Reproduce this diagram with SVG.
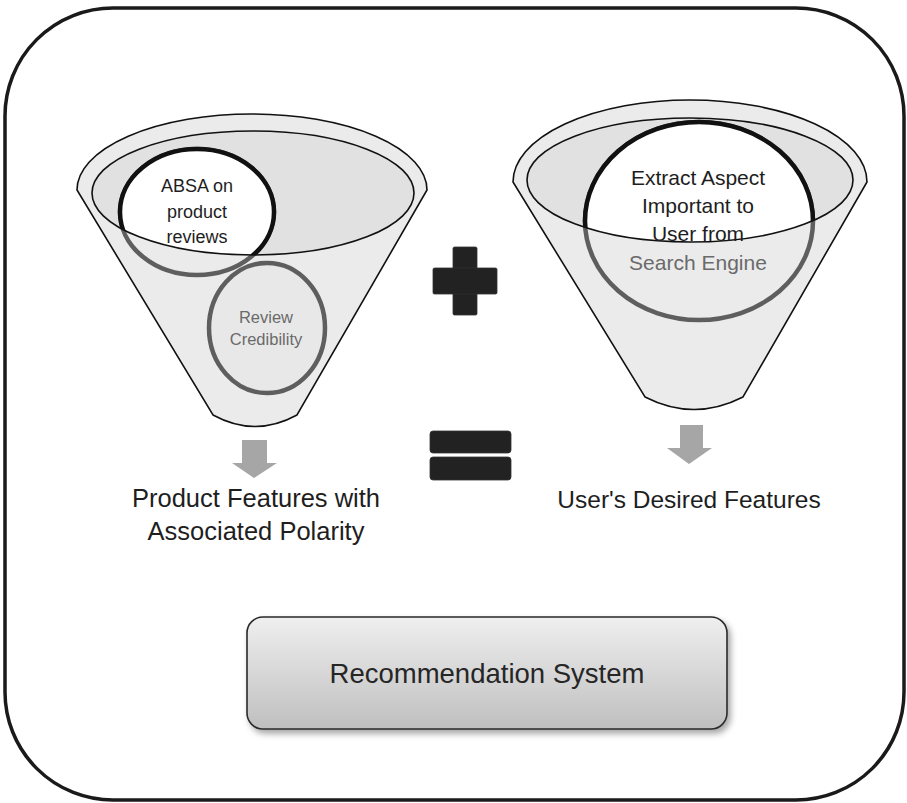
<svg xmlns="http://www.w3.org/2000/svg" width="907" height="803" viewBox="0 0 907 803">
<defs>
<style>
text{font-family:"Liberation Sans",Arial,sans-serif;text-anchor:middle}
.funnel{fill:#ebebeb;stroke:#111;stroke-width:1.6}
.mouth{fill:#e1e1e1;stroke:none}
.mouthline{fill:none;stroke:#111;stroke-width:1.6}
.ring-out{fill:none;stroke:#5e5e5e;stroke-width:4.5}
.ring-in{fill:#fff;stroke:#111;stroke-width:4.5}
.dark{fill:#1e1e1e}
.grey{fill:#6a6a6a}
.sym{fill:#222;stroke:#333;stroke-width:0.8}
.arrow{fill:#a6a6a6}
</style>
<clipPath id="clipL"><ellipse cx="253" cy="193" rx="161" ry="62"/></clipPath>
<clipPath id="clipR"><ellipse cx="690" cy="180" rx="163" ry="62"/></clipPath>
<linearGradient id="boxg" x1="0" y1="0" x2="0" y2="1">
<stop offset="0" stop-color="#efefef"/>
<stop offset="1" stop-color="#bfbfbf"/>
</linearGradient>
<filter id="shadow" x="-10%" y="-20%" width="120%" height="150%">
<feDropShadow dx="3" dy="4" stdDeviation="3" flood-color="#000" flood-opacity="0.35"/>
</filter>
</defs>
<rect x="0" y="0" width="907" height="803" fill="#fff"/>
<rect id="frame" x="5" y="8" width="899" height="792" rx="108" ry="108" fill="none" stroke="#1a1a1a" stroke-width="3.5"/>

<g id="funnel-left">
<path class="funnel" d="M 77,190 A 175,76 0 0 1 427,190 L 297,415 Q 255,438 213,415 Z"/>
<ellipse class="mouth" cx="253" cy="193" rx="161" ry="62"/>
<ellipse class="ring-out" cx="197" cy="212" rx="77" ry="63"/>
<ellipse class="ring-in" cx="197" cy="212" rx="77" ry="63" clip-path="url(#clipL)"/>
<ellipse class="mouthline" cx="253" cy="193" rx="161" ry="62"/>
<text class="dark" x="197" y="192" font-size="18">ABSA on</text>
<text class="dark" x="197" y="218" font-size="18">product</text>
<text class="dark" x="197" y="243" font-size="18">reviews</text>
</g>

<g id="review-credibility">
<ellipse cx="267" cy="328" rx="58" ry="65" fill="#e8e8e8" stroke="#5e5e5e" stroke-width="4.5"/>
<text class="grey" x="266" y="323" font-size="16.5">Review</text>
<text class="grey" x="266" y="345" font-size="16.5">Credibility</text>
</g>

<g id="funnel-right">
<path class="funnel" d="M 513,182 A 177,82 0 0 1 867,182 L 743,397 Q 694,422 645,397 Z"/>
<ellipse class="mouth" cx="690" cy="180" rx="163" ry="62"/>
<ellipse class="ring-out" cx="699" cy="221" rx="114" ry="99"/>
<ellipse class="ring-in" cx="699" cy="221" rx="114" ry="99" clip-path="url(#clipR)"/>
<ellipse class="mouthline" cx="690" cy="180" rx="163" ry="62"/>
<text class="dark" x="698" y="185" font-size="21">Extract Aspect</text>
<text class="dark" x="698" y="213" font-size="21">Important to</text>
<text class="dark" x="698" y="241" font-size="21">User from</text>
<text class="grey" x="698" y="270" font-size="21">Search Engine</text>
</g>

<g id="plus">
<rect class="sym" x="453" y="247" width="24" height="68" rx="1.5"/>
<rect class="sym" x="433" y="268" width="64" height="26" rx="1.5"/>
<rect x="453.5" y="268.5" width="23" height="25" fill="#222"/>
</g>

<g id="equals">
<rect class="sym" x="430" y="431" width="81" height="22" rx="3"/>
<rect class="sym" x="430" y="457" width="81" height="23" rx="3"/>
</g>

<g id="connectors">
<path class="arrow" d="M 242,440 L 267,440 L 267,463 L 277,463 L 254,478 L 232,463 L 242,463 Z"/>
<path class="arrow" d="M 680,425 L 703,425 L 703,448 L 712,448 L 689,464 L 667,448 L 680,448 Z"/>
</g>

<g id="product-features">
<text class="dark" x="256" y="507" font-size="25.5">Product Features with</text>
<text class="dark" x="256" y="540" font-size="25.5">Associated Polarity</text>
</g>

<g id="desired-features">
<text class="dark" x="689" y="508" font-size="24.5">User's Desired Features</text>
</g>

<g id="recommendation-system">
<rect x="247" y="617" width="480" height="112" rx="16" ry="16" fill="url(#boxg)" stroke="#2a2a2a" stroke-width="1.6" filter="url(#shadow)"/>
<text x="487" y="683" font-size="27.5" fill="#262626">Recommendation System</text>
</g>
</svg>
